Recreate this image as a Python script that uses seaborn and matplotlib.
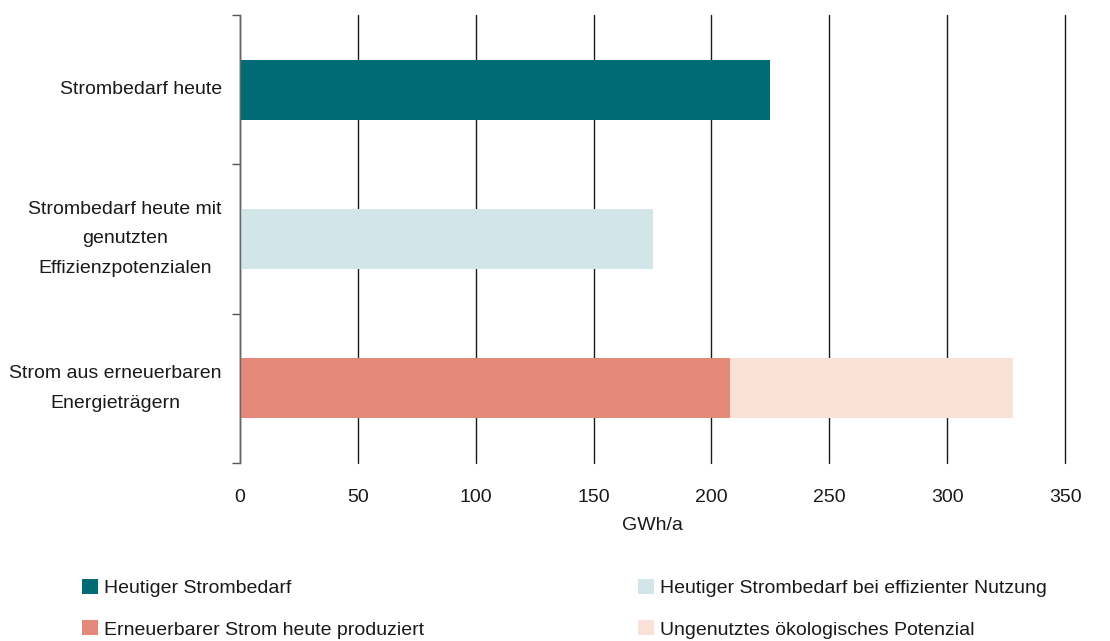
import matplotlib
matplotlib.use("Agg")
import matplotlib.pyplot as plt
from matplotlib.patches import Patch
import seaborn as sns
import pandas as pd

# Categories (y axis) and values in GWh/a
categories = [
    "Strombedarf heute",
    "Strombedarf heute mit\ngenutzten\nEffizienzpotenzialen",
    "Strom aus erneuerbaren\nEnergieträgern",
]
demand_today = [225, 0, 0]
demand_efficient = [0, 175, 0]
renewable_produced = [0, 0, 208]
renewable_unused = [0, 0, 120]

series_labels = [
    "Heutiger Strombedarf",
    "Heutiger Strombedarf bei effizienter Nutzung",
    "Erneuerbarer Strom heute produziert",
    "Ungenutztes ökologisches Potenzial",
]
series_colors = ["#006A75", "#D2E6EA", "#E4887A", "#FAE1D8"]
x_ticks = [0, 50, 100, 150, 200, 250, 300, 350]

sns.set_theme(style="white")
plt.rcParams["font.family"] = ["Liberation Sans Narrow", "Liberation Sans", "DejaVu Sans"]

FS = 14
TXT = "#1a1a1a"

df = pd.DataFrame({
    "cat": categories,
    "today": demand_today,
    "eff": demand_efficient,
    "prod": renewable_produced,
    "unused": renewable_unused,
})
df["stack_total"] = df["prod"] + df["unused"]

fig = plt.figure(figsize=(11.10, 6.41), dpi=100)
ax = fig.add_axes([0.2162, 0.2777, 0.7433, 0.6989])

# gridlines behind the bars
ax.set_axisbelow(True)
ax.xaxis.grid(True, color="#1a1a1a", linewidth=1.0)
ax.yaxis.grid(False)

bar_w = 0.4
# stacked renewable bar: full stack first, produced part drawn over it
sns.barplot(data=df, y="cat", x="stack_total", order=categories, orient="h",
            color=series_colors[3], width=bar_w, saturation=1, ax=ax)
sns.barplot(data=df, y="cat", x="prod", order=categories, orient="h",
            color=series_colors[2], width=bar_w, saturation=1, ax=ax)
sns.barplot(data=df, y="cat", x="today", order=categories, orient="h",
            color=series_colors[0], width=bar_w, saturation=1, ax=ax)
sns.barplot(data=df, y="cat", x="eff", order=categories, orient="h",
            color=series_colors[1], width=bar_w, saturation=1, ax=ax)
for p in ax.patches:
    p.set_linewidth(0)

ax.set_xlim(0, 350)
ax.set_ylim(2.5, -0.5)
ax.set_xticks(x_ticks)
ax.set_xticklabels([str(t) for t in x_ticks], fontsize=FS, color=TXT)
ax.tick_params(axis="x", length=0, pad=19)
ax.set_xlabel("GWh/a", fontsize=FS, color=TXT, labelpad=8)
ax.set_ylabel("")
for gl in ax.get_xgridlines():
    gl.set_clip_on(False)

ax.set_yticks(range(len(categories)))
ax.set_yticklabels(categories, fontsize=FS, color=TXT, ha="right",
                   multialignment="center")
for lab in ax.get_yticklabels():
    lab.set_linespacing(1.95)
    lab.set_verticalalignment("center")
ax.tick_params(axis="y", which="major", length=0, pad=13)
ax.set_yticks([-0.5, 0.5, 1.5, 2.5], minor=True)
ax.tick_params(axis="y", which="minor", left=True, length=6, width=1.0,
               color="#555555")

for side in ["top", "right", "bottom"]:
    ax.spines[side].set_visible(False)
ax.spines["left"].set_color("#666666")
ax.spines["left"].set_linewidth(1.0)

handles = [Patch(facecolor=c, edgecolor="none") for c in series_colors]
legend_kw = dict(loc="upper left", ncol=1, frameon=False, fontsize=FS,
                 handlelength=0.8, handleheight=0.8, handletextpad=0.3,
                 labelspacing=1.2, borderaxespad=0, labelcolor=TXT)
fig.legend([handles[0], handles[2]], [series_labels[0], series_labels[2]],
           bbox_to_anchor=(0.067, 0.109), **legend_kw)
fig.legend([handles[1], handles[3]], [series_labels[1], series_labels[3]],
           bbox_to_anchor=(0.568, 0.109), **legend_kw)

fig.savefig("out.png", dpi=100)
